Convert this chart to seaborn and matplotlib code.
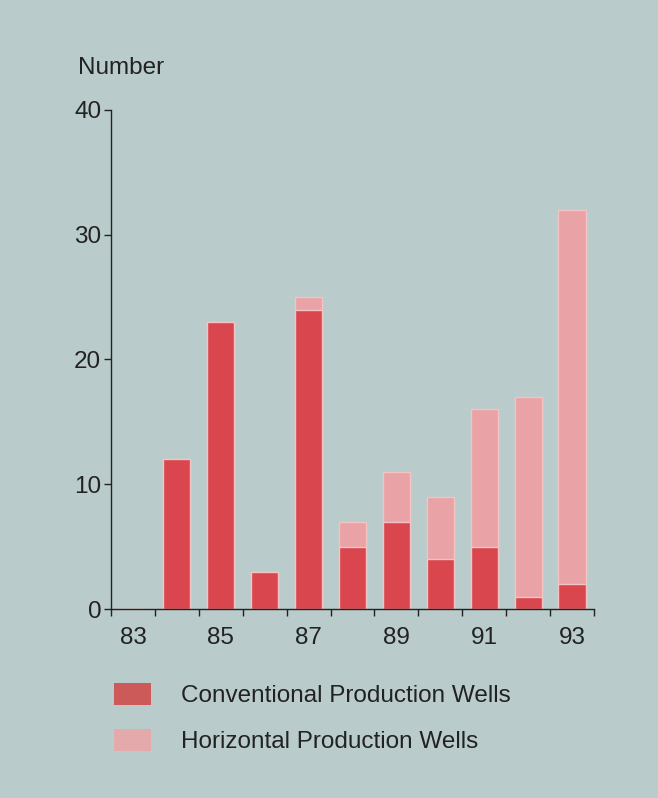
import matplotlib
matplotlib.use("Agg")
import matplotlib.pyplot as plt
import seaborn as sns
import pandas as pd
import numpy as np
from matplotlib.patches import Patch

years = ["83", "84", "85", "86", "87", "88", "89", "90", "91", "92", "93"]
conventional = [0, 12, 23, 3, 24, 5, 7, 4, 5, 1, 2]
horizontal = [0, 0, 0, 0, 1, 2, 4, 5, 11, 16, 30]
shown_labels = ["83", "85", "87", "89", "91", "93"]

df = pd.DataFrame({"year": years, "conv": conventional, "horiz": horizontal})
df["total"] = df["conv"] + df["horiz"]

sns.set_theme(style="white")
plt.rcParams["font.family"] = ["Liberation Sans", "DejaVu Sans"]

bg = "#bacbcb"
c_conv = "#d9464e"
c_horiz = "#e9a2a6"
edge = "#f2c4c4"
fs = 17.5

fig = plt.figure(figsize=(6.58, 7.98), dpi=100)
fig.patch.set_facecolor(bg)
ax = fig.add_axes([0.1687, 0.2368, 0.9027 - 0.1687, 0.8622 - 0.2368])
ax.set_facecolor(bg)

sns.barplot(data=df, x="year", y="total", color=c_horiz, saturation=1, width=0.62,
            edgecolor=edge, linewidth=1.0, ax=ax)
sns.barplot(data=df, x="year", y="conv", color=c_conv, saturation=1, width=0.62,
            edgecolor=edge, linewidth=1.0, ax=ax)

ax.set_xlim(-0.5, len(years) - 0.5)
ax.set_ylim(0, 40)
ax.set_xlabel("")
ax.set_ylabel("")

for s in ["top", "right"]:
    ax.spines[s].set_visible(False)
for s in ["left", "bottom"]:
    ax.spines[s].set_color("#222222")
    ax.spines[s].set_linewidth(1.0)

# x: tick marks at category boundaries, labels on odd years
ax.set_xticks(np.arange(-0.5, len(years), 1.0))
ax.set_xticklabels([])
ax.tick_params(axis="x", which="major", direction="out", length=5, width=1, color="#222222", bottom=True)
ax.set_xticks([years.index(l) for l in shown_labels], minor=True)
ax.set_xticklabels(shown_labels, minor=True)
ax.tick_params(axis="x", which="minor", length=0, pad=13, labelsize=fs, labelcolor="#222222")

ax.set_yticks([0, 10, 20, 30, 40])
ax.set_yticklabels(["0", "10", "20", "30", "40"])
ax.tick_params(axis="y", direction="out", length=5, width=1, color="#222222", left=True,
               labelsize=fs, labelcolor="#222222", pad=2)

fig.text(78 / 658, 1 - 68 / 798, "Number", fontsize=fs, color="#222222", va="center", ha="left")

handles = [Patch(facecolor="#cc5a58", edgecolor="none", label="Conventional Production Wells"),
           Patch(facecolor="#e4a9aa", edgecolor="none", label="Horizontal Production Wells")]
fig.legend(handles=handles, loc="upper left", bbox_to_anchor=(114 / 658, 1 - 683 / 798),
           frameon=False, fontsize=fs, handlelength=1.52, handleheight=1.0,
           handletextpad=1.25, labelspacing=0.9, labelcolor="#222222",
           borderpad=0, borderaxespad=0)

fig.savefig("out.png", dpi=100, facecolor=bg)
